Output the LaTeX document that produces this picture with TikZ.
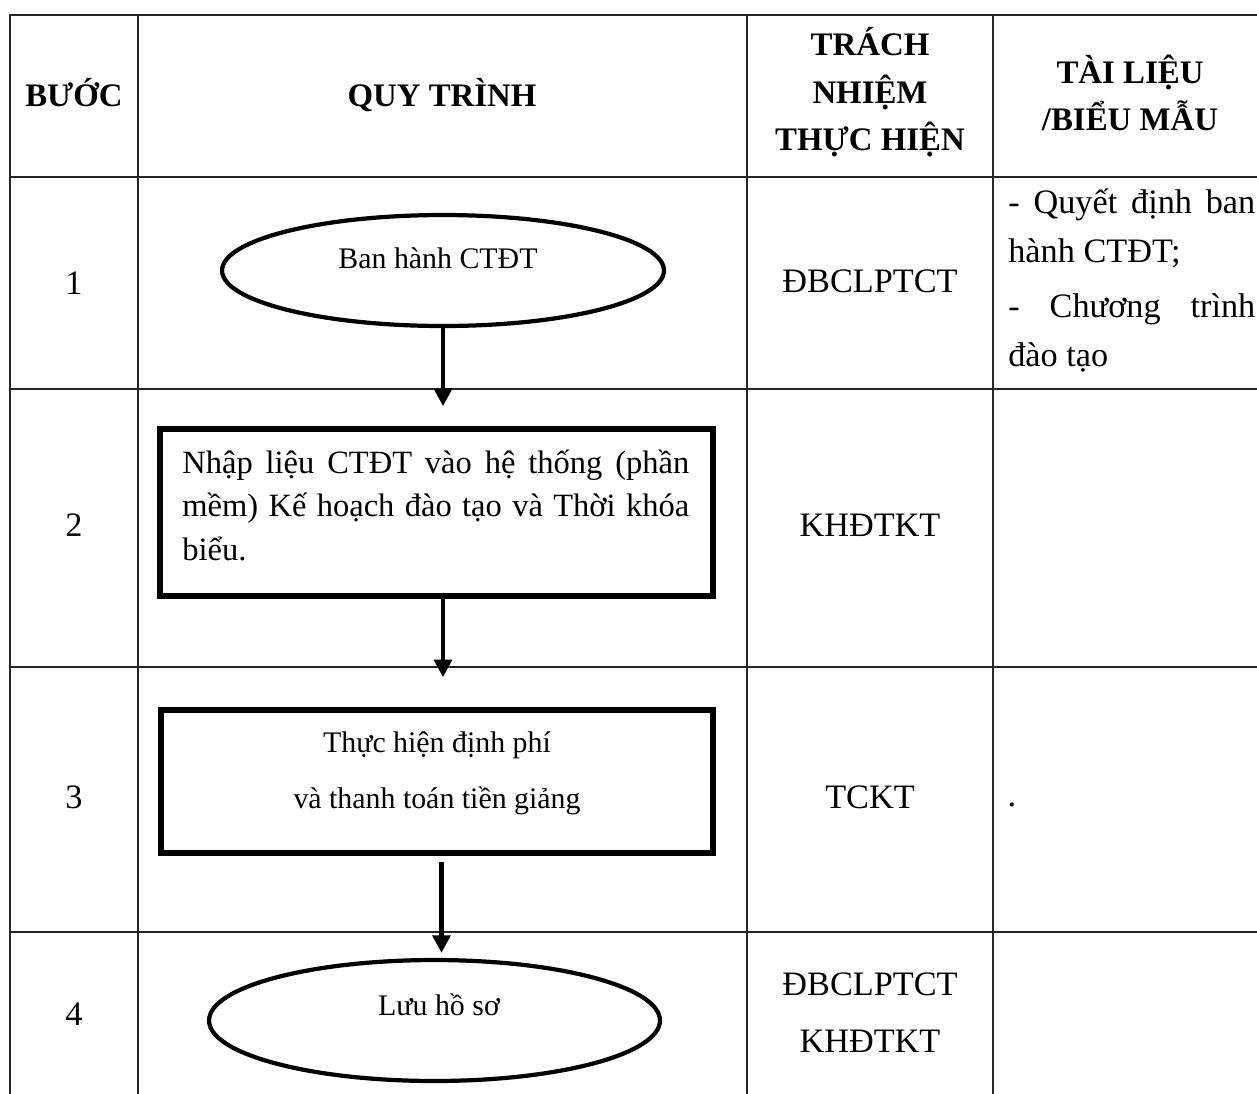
\documentclass[tikz,border=0pt]{standalone}
\usepackage{fontspec}
\setmainfont{Liberation Serif}
\usetikzlibrary{shapes.geometric, arrows.meta}
\setlength{\parindent}{0pt}

\tikzset{
  tabline/.style={line width=1pt, black!85, line cap=rect},
  head/.style={anchor=base, inner sep=0pt, font=\fontsize{18.7}{26}\selectfont\bfseries},
  cell/.style={anchor=base, inner sep=0pt, font=\fontsize{19.5}{28.2}\selectfont},
  ftext/.style={anchor=base, inner sep=0pt, font=\fontsize{17}{24.7}\selectfont},
  term/.style={ellipse, draw, line width=2.4pt, inner sep=0pt},
  proc/.style={rectangle, draw, line width=3.2pt, inner sep=0pt},
  flow/.style={line width=2.5pt, -{Triangle[length=10pt,width=10pt]}},
}

\begin{document}
\begin{tikzpicture}[x=0.02cm, y=-0.02cm]
  \useasboundingbox (0,0) rectangle (1257,1093);
  \foreach \y in {15,177,389,667,932}
    \draw[tabline] (10,\y) -- (1257,\y);
  \foreach \x in {10,138,747,993}
    \draw[tabline] (\x,15) -- (\x,1093);

  \node[head] (hstep) at (74,106) {BƯỚC};
  \node[head] (hproc) at (442,106) {QUY TRÌNH};
  \node[head] (hresp1) at (870,55) {TRÁCH};
  \node[head] (hresp2) at (870,103) {NHIỆM};
  \node[head] (hresp3) at (870,150) {THỰC HIỆN};
  \node[head] (hdoc1) at (1130,83) {TÀI LIỆU};
  \node[head] (hdoc2) at (1130,130) {/BIỂU MẪU};

  \node[cell] (n1) at (74,294) {1};
  \node[cell] (n2) at (74,536) {2};
  \node[cell] (n3) at (74,808) {3};
  \node[cell] (n4) at (74,1025) {4};

  \node[term, minimum width=8.84cm, minimum height=2.22cm] (s1) at (443,270.5) {};
  \node[ftext] (t1) at (438,268) {Ban hành CTĐT};
  \node[proc, minimum width=11.06cm, minimum height=3.34cm] (s2) at (436.5,512.5) {};
  \node[ftext, font=\fontsize{18.5}{25}\selectfont, anchor=base west, text width=10.14cm, align=justify] (t2) at (182,473)
    {Nhập liệu CTĐT vào hệ thống (phần\linebreak mềm) Kế hoạch đào tạo và Thời khóa\linebreak biểu.};
  \node[proc, minimum width=11.04cm, minimum height=2.86cm] (s3) at (437,781.5) {};
  \node[ftext] (t3a) at (437,752) {Thực hiện định phí};
  \node[ftext] (t3b) at (437,808) {và thanh toán tiền giảng};
  \node[term, minimum width=9.02cm, minimum height=2.42cm] (s4) at (434.5,1020.5) {};
  \node[ftext] (t4) at (439,1015) {Lưu hồ sơ};

  \draw[flow, shorten >=0.4cm] (s1.south) -- (s1.south |- s2.north);
  \draw[flow, shorten >=0.6cm] ([xshift=0.13cm]s2.south) -- ([xshift=0.13cm]s2.south |- s3.north);
  \draw[flow, shorten <=0.12cm, shorten >=0.1cm] ([xshift=0.09cm]s3.south) -- ([xshift=0.09cm]s3.south |- s4.north);

  \node[cell] (r1) at (870,292) {ĐBCLPTCT};
  \node[cell] (r2) at (870,536) {KHĐTKT};
  \node[cell] (r3) at (870,808) {TCKT};
  \node[cell] (r4a) at (870,995) {ĐBCLPTCT};
  \node[cell] (r4b) at (870,1052) {KHĐTKT};

  \node[cell, anchor=base west, text width=4.94cm, align=justify] (d1) at (1008,213)
    {- Quyết định ban\linebreak hành CTĐT;\par\vskip3pt - Chương trình\linebreak đào tạo};
  \node[cell] (d3) at (1012,806) {.};
\end{tikzpicture}
\end{document}
